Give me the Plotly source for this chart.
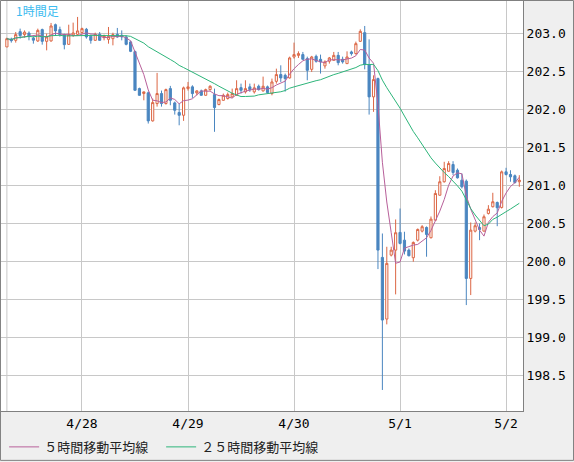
import pandas as pd
import plotly.graph_objects as go

# hourly candles, first bar 4/27 07:00 (JST)
START = "2015-04-27 07:00"

opens = [
    202.825, 202.928, 202.912, 203.026, 202.987, 203.007, 202.941, 202.904, 203.053, 202.899,
    202.904, 203.118, 203.053, 202.987, 202.859, 202.978, 202.991, 203.013, 203.057, 202.967,
    202.912, 202.991, 202.947, 202.925, 202.934, 202.991, 202.978, 202.957, 202.891, 202.763,
    202.276, 202.211, 202.220, 201.851, 202.079, 202.211, 202.079, 202.276, 202.088, 201.961,
    201.925, 202.276, 202.299, 202.220, 202.246, 202.188, 202.263, 202.197, 202.066, 202.122,
    202.145, 202.167, 202.188, 202.289, 202.233, 202.299, 202.233, 202.307, 202.246, 202.299,
    202.211, 202.372, 202.461, 202.451, 202.417, 202.693, 202.714, 202.724, 202.671, 202.530,
    202.701, 202.662, 202.575, 202.636, 202.649, 202.714, 202.662, 202.605, 202.759, 202.737,
    202.899, 203.013, 202.592, 202.167, 202.408, 200.053, 199.241, 200.083, 200.149, 200.382,
    200.280, 200.149, 200.049, 200.280, 200.399, 200.447, 200.312, 200.543, 200.872, 201.049,
    201.188, 201.276, 201.201, 201.070, 201.057, 199.776, 200.399, 200.447, 200.399, 200.632,
    200.720, 200.776, 200.711, 201.180, 201.145, 201.128, 201.049,
]
highs = [
    202.947, 202.947, 203.022, 203.066, 203.043, 203.030, 202.964, 203.066, 203.066, 203.000,
    203.141, 203.132, 203.092, 203.000, 203.118, 203.145, 203.220, 203.079, 203.075, 202.987,
    203.013, 203.022, 202.987, 203.088, 203.013, 203.075, 203.043, 202.978, 202.908, 202.776,
    202.289, 202.237, 202.237, 202.145, 202.483, 202.250, 202.276, 202.312, 202.105, 202.079,
    202.303, 202.364, 202.320, 202.254, 202.263, 202.276, 202.320, 202.276, 202.145, 202.211,
    202.224, 202.276, 202.386, 202.342, 202.386, 202.342, 202.342, 202.329, 202.434, 202.316,
    202.408, 202.539, 202.583, 202.474, 202.697, 202.882, 202.767, 202.759, 202.697, 202.707,
    202.724, 202.724, 202.649, 202.693, 202.759, 202.759, 202.697, 202.767, 202.776, 202.895,
    203.057, 203.101, 202.925, 202.451, 202.421, 200.368, 200.193, 200.193, 200.553, 200.697,
    200.391, 200.171, 200.263, 200.434, 200.478, 200.461, 200.592, 200.938, 201.122, 201.312,
    201.320, 201.320, 201.224, 201.158, 201.079, 200.513, 200.513, 200.500, 200.618, 200.741,
    200.904, 200.789, 201.197, 201.233, 201.201, 201.145, 201.136,
]
lows = [
    202.825, 202.882, 202.882, 202.934, 202.947, 202.912, 202.868, 202.891, 202.855, 202.780,
    202.895, 202.978, 202.961, 202.793, 202.855, 202.957, 202.974, 203.000, 202.934, 202.868,
    202.908, 202.908, 202.912, 202.868, 202.846, 202.947, 202.912, 202.846, 202.757, 202.250,
    202.184, 202.122, 201.816, 201.842, 202.039, 202.039, 202.066, 202.057, 201.934, 201.793,
    201.851, 202.250, 202.154, 202.188, 202.184, 202.184, 202.250, 201.707, 202.057, 202.118,
    202.132, 202.158, 202.184, 202.211, 202.211, 202.233, 202.211, 202.250, 202.237, 202.211,
    202.188, 202.342, 202.364, 202.237, 202.408, 202.671, 202.680, 202.658, 202.386, 202.496,
    202.618, 202.474, 202.539, 202.605, 202.645, 202.583, 202.605, 202.605, 202.711, 202.724,
    202.891, 202.530, 201.934, 201.970, 199.899, 198.307, 199.171, 200.066, 199.566, 200.224,
    200.092, 200.066, 199.996, 200.263, 200.382, 200.062, 200.303, 200.539, 200.868, 201.039,
    201.184, 201.136, 201.092, 200.961, 199.425, 199.557, 200.382, 200.280, 200.395, 200.618,
    200.711, 200.464, 200.697, 201.132, 201.049, 201.026, 200.983,
]
closes = [
    202.934, 202.908, 202.987, 202.974, 203.020, 202.961, 202.914, 203.043, 202.899, 202.957,
    203.101, 203.036, 202.987, 202.855, 202.987, 203.009, 203.036, 203.066, 202.957, 202.912,
    202.991, 202.912, 202.974, 202.964, 202.987, 202.957, 202.957, 202.859, 202.767, 202.254,
    202.188, 202.233, 201.851, 202.092, 202.211, 202.079, 202.263, 202.122, 201.991, 201.925,
    202.286, 202.299, 202.211, 202.246, 202.188, 202.263, 202.307, 202.026, 202.132, 202.188,
    202.197, 202.211, 202.276, 202.254, 202.276, 202.263, 202.286, 202.263, 202.307, 202.224,
    202.364, 202.461, 202.417, 202.408, 202.680, 202.724, 202.737, 202.662, 202.517, 202.693,
    202.636, 202.628, 202.628, 202.680, 202.714, 202.618, 202.628, 202.693, 202.737, 202.868,
    203.030, 202.592, 202.167, 202.395, 200.149, 199.228, 199.974, 200.149, 200.378, 200.237,
    200.136, 200.075, 200.250, 200.421, 200.457, 200.355, 200.557, 200.895, 201.049, 201.224,
    201.289, 201.171, 201.101, 200.983, 199.776, 200.412, 200.470, 200.421, 200.588, 200.688,
    200.786, 200.707, 201.180, 201.145, 201.114, 201.039, 201.070,
]

RED = "#dc6644"
BLUE = "#4a86c0"
PINK = "#b8609a"
GREEN = "#2db57a"
GRID = "#c8c8c8"
FRAME = "#808080"
JP_FONT = "Noto Sans CJK JP"
NUM_FONT = "DejaVu Sans Mono"

df = pd.DataFrame({"open": opens, "high": highs, "low": lows, "close": closes})
df["time"] = pd.date_range(START, periods=len(df), freq="h")
df["ma5"] = df["close"].rolling(5, min_periods=1).mean()
df["ma25"] = df["close"].rolling(25, min_periods=1).mean()

fig = go.Figure()
fig.add_trace(go.Candlestick(
    x=df["time"], open=df["open"], high=df["high"], low=df["low"], close=df["close"],
    increasing=dict(line=dict(color=RED, width=1), fillcolor="white"),
    decreasing=dict(line=dict(color=BLUE, width=1), fillcolor=BLUE),
    showlegend=False, hoverinfo="skip",
))
fig.add_trace(go.Scatter(
    x=df["time"], y=df["ma5"], mode="lines", name="５時間移動平均線",
    line=dict(color=PINK, width=1),
))
fig.add_trace(go.Scatter(
    x=df["time"], y=df["ma25"], mode="lines", name="２５時間移動平均線",
    line=dict(color=GREEN, width=1),
))

x0 = df["time"].iloc[0] - pd.Timedelta(minutes=80)
x1 = df["time"].iloc[-1] + pd.Timedelta(minutes=50)

fig.update_layout(
    width=574, height=462,
    margin=dict(l=1, r=51, t=1, b=50),
    paper_bgcolor="#efefef",
    plot_bgcolor="white",
    showlegend=True,
    legend=dict(
        orientation="h", x=0.006, xanchor="left", y=-0.085, yanchor="middle",
        font=dict(family=JP_FONT, size=13, color="#222222"),
        bgcolor="rgba(0,0,0,0)", entrywidth=112, entrywidthmode="pixels",
        itemwidth=30,
    ),
    xaxis=dict(
        type="date", range=[x0, x1], rangeslider=dict(visible=False),
        tick0="2015-04-28", dtick=86400000, tickformat="%-m/%-d",
        showgrid=True, gridcolor=GRID, gridwidth=1,
        showline=True, linecolor=FRAME, linewidth=1,
        ticks="", tickfont=dict(family=NUM_FONT, size=13, color="black"),
        zeroline=False,
    ),
    yaxis=dict(
        side="right", range=[198.03, 203.43],
        tick0=198.5, dtick=0.5, tickformat=".1f",
        showgrid=True, gridcolor=GRID, gridwidth=1,
        showline=True, linecolor=FRAME, linewidth=1,
        ticks="", tickfont=dict(family=NUM_FONT, size=13, color="black"),
        zeroline=False,
    ),
    annotations=[dict(
        text="1時間足", xref="paper", yref="paper", x=0.025, y=1,
        xanchor="left", yanchor="top", yshift=1, showarrow=False,
        font=dict(family=JP_FONT, size=12, color="#3cbcf0"),
    )],
    shapes=[
        dict(type="line", xref="x", yref="paper", x0=df["time"].iloc[0], x1=df["time"].iloc[0],
             y0=0, y1=1, line=dict(color=GRID, width=1), layer="below"),
        dict(type="rect", xref="paper", yref="paper", x0=-0.001, x1=1.0968,
             y0=-0.1204, y1=1.0012, line=dict(color=FRAME, width=1)),
    ],
)

# the page body has an 8px default margin; drop it so the chart sits at 0,0
fig.write_html(
    "out.html",
    config={"displayModeBar": False},
    post_script="document.body.style.margin='0';document.body.style.overflow='hidden';",
)
